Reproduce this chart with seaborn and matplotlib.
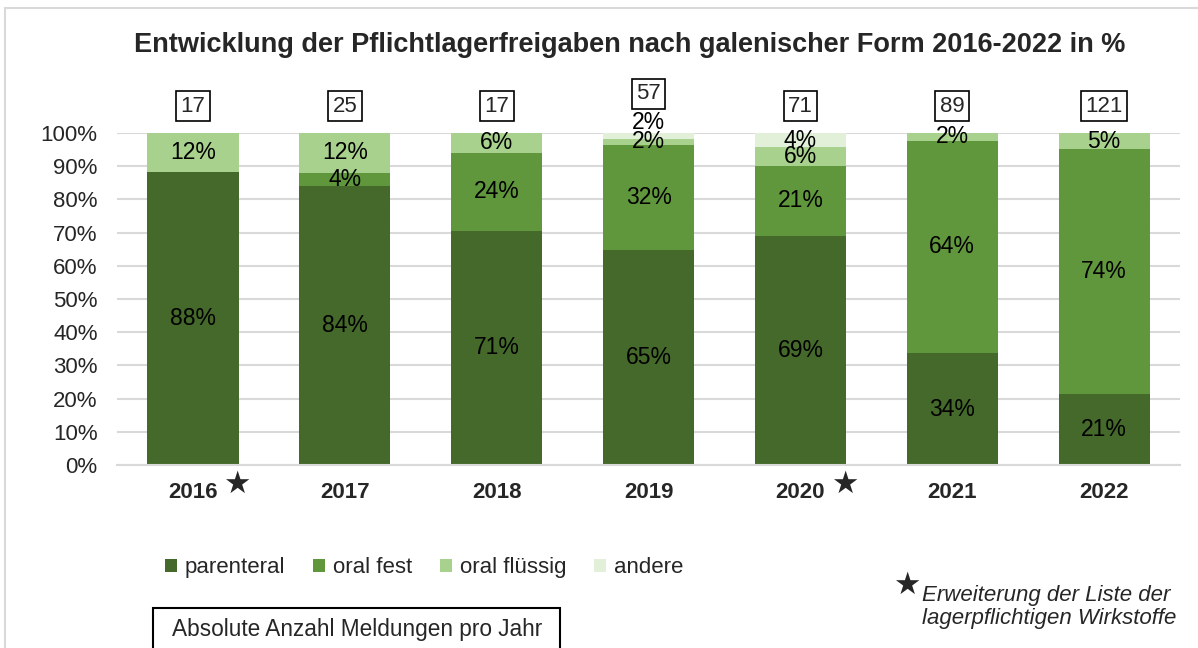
import numpy as np
import pandas as pd
import seaborn as sns
import matplotlib.pyplot as plt
from matplotlib.patches import Rectangle, Patch
import matplotlib.transforms as mtransforms

# Data (share in % per year)
years = ['2016', '2017', '2018', '2019', '2020', '2021', '2022']
parenteral = [88.2, 84.0, 70.6, 64.9, 69.0, 33.7, 21.4]
oral_fest = [0.0, 4.0, 23.5, 31.6, 21.1, 64.0, 73.7]
oral_fluessig = [11.8, 12.0, 5.9, 1.75, 5.6, 2.3, 4.9]
andere = [0.0, 0.0, 0.0, 1.75, 4.3, 0.0, 0.0]
counts = [17, 25, 17, 57, 71, 89, 121]
star_years = ['2016', '2020']

series_names = ['parenteral', 'oral fest', 'oral flüssig', 'andere']
series_vals = [parenteral, oral_fest, oral_fluessig, andere]
colors = ['#44692A', '#61973C', '#A9D18E', '#E2F0D9']

sns.set_theme(style='white')
plt.rcParams['font.family'] = ['Liberation Sans', 'DejaVu Sans']

fig = plt.figure(figsize=(11.98, 6.48), dpi=100)
ax = fig.add_axes([0.0977, 0.2824, 0.8873, 0.5124])

df = pd.DataFrame({'year': years})
for name, vals in zip(series_names, series_vals):
    df[name] = vals
cum = df[series_names].cumsum(axis=1)

# stacked bars: draw cumulative totals from top segment down
for name, col in reversed(list(zip(series_names, colors))):
    sns.barplot(x=df['year'], y=cum[name], color=col, width=0.6,
                saturation=1, linewidth=0, ax=ax, zorder=2)

# segment labels
label_top = [0] * len(years)
for i in range(len(years)):
    bottom = 0
    prev = None
    for name in series_names:
        v = df.loc[i, name]
        if v > 0:
            y = bottom + v / 2
            if v < 3 and prev is not None and prev < 3:
                y += 4
            label_top[i] = max(label_top[i], y)
            ax.text(i, y, f'{v:.0f}%', ha='center', va='center',
                    fontsize=16.5, color='black', zorder=5)
            prev = v
        bottom += v

# absolute counts in boxes above bars
for i, c in enumerate(counts):
    y = 108.1 if label_top[i] <= 100 else 111.8
    ax.text(i, y, str(c), ha='center', va='center', fontsize=16,
            bbox=dict(boxstyle='square,pad=0.2', fc='white', ec='black', lw=1.2),
            clip_on=False)

ax.set_ylim(0, 100)
ax.set_xlim(-0.5, len(years) - 0.5)
ax.set_yticks(np.arange(0, 101, 10))
ax.set_yticklabels([f'{t}%' for t in range(0, 101, 10)], fontsize=16)
ax.set_xticks(range(len(years)))
ax.set_xticklabels(years, fontsize=16, fontweight='bold')
ax.tick_params(axis='y', length=0, pad=14)
ax.tick_params(axis='x', length=0, pad=12)
ax.set_xlabel('')
ax.set_ylabel('')
ax.yaxis.grid(True, color='#D9D9D9', lw=1.5, zorder=0)
ax.set_axisbelow(True)
for s in ['left', 'right', 'top']:
    ax.spines[s].set_visible(False)
ax.spines['bottom'].set_color('#D9D9D9')
ax.spines['bottom'].set_linewidth(1.5)

# stars next to years with extended list
trans = mtransforms.blended_transform_factory(ax.transData, ax.transAxes)
for yr in star_years:
    i = years.index(yr)
    ax.text(i + 0.29, -0.057, '★', ha='center', va='center', fontsize=22,
            family='DejaVu Sans', transform=trans, clip_on=False)

fig.text(0.526, 0.931, 'Entwicklung der Pflichtlagerfreigaben nach galenischer Form 2016-2022 in %',
         ha='center', va='center', fontsize=19.5, fontweight='bold')

handles = [Patch(facecolor=c, edgecolor='none') for c in colors]
fig.legend(handles, series_names, loc='center', bbox_to_anchor=(0.354, 0.124),
           ncol=4, frameon=False, fontsize=16, handlelength=0.55, handleheight=0.55,
           handletextpad=0.35, columnspacing=1.25)

# box with explanation of the count labels
fig.patches.append(Rectangle((153 / 1198, -0.01), 407 / 1198, 40 / 648 + 0.01,
                             transform=fig.transFigure, fill=False, ec='black', lw=1.5))
fig.text(357 / 1198, 0.028, 'Absolute Anzahl Meldungen pro Jahr', ha='center', va='center',
         fontsize=16.3)

fig.text(0.757, 0.097, '★', ha='center', va='center', fontsize=22, family='DejaVu Sans')
fig.text(0.77, 0.063, 'Erweiterung der Liste der\nlagerpflichtigen Wirkstoffe', ha='left',
         va='center', fontsize=16, style='italic', linespacing=1.1)

# light chart frame
fig.patches.append(Rectangle((5 / 1198, -0.1), 1.2, 1.1 - 8 / 648,
                             transform=fig.transFigure, fill=False,
                             ec='#D9D9D9', lw=1.5))

fig.savefig('out.png', dpi=100)
